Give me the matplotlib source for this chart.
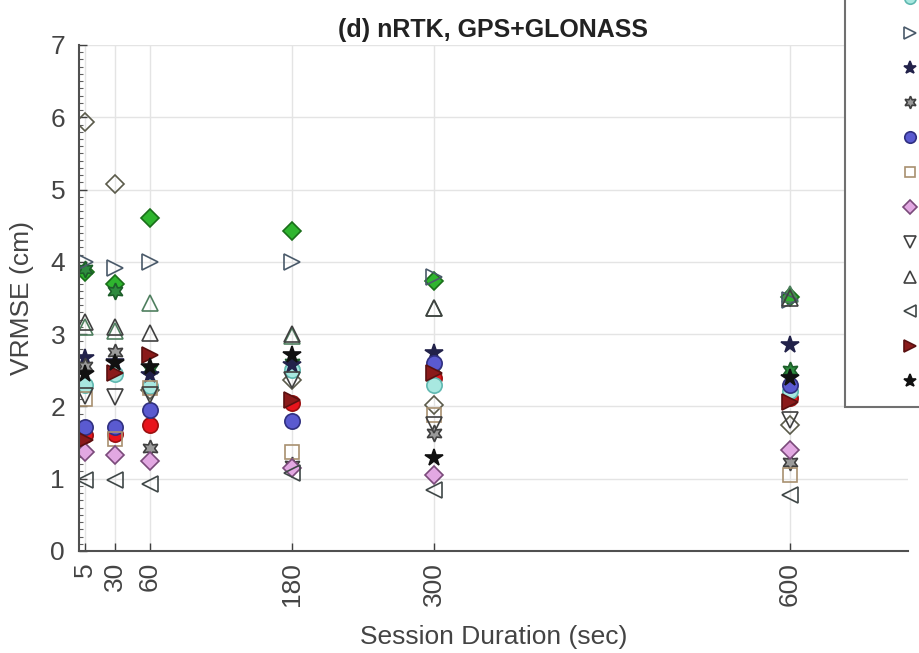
import numpy as np
import matplotlib
matplotlib.use('Agg')
import matplotlib.pyplot as plt
from matplotlib.ticker import MultipleLocator

plt.rcParams['font.family'] = ['Liberation Sans', 'DejaVu Sans']

# session durations (sec)
durations = [5, 30, 60, 180, 300, 600]
tick_labels = ['5', '30', '60', '180', '300', '600']

# VRMSE (cm) per receiver/solution
dia_open   = [5.93, 5.08, 2.23, 2.37, 2.02, 1.75]
dia_green  = [3.86, 3.70, 4.60, 4.43, 3.74, 3.52]
hex_green  = [3.90, 3.60, 2.52, 2.60, 2.50, 2.50]
circ_red   = [1.60, 1.62, 1.74, 2.05, 2.40, 2.12]
utri_green = [3.10, 3.05, 3.43, 2.98, 3.36, 3.55]
circ_cyan  = [2.30, 2.45, 2.28, 2.50, 2.30, 2.22]
rtri       = [4.00, 3.92, 4.00, 4.00, 3.79, 3.47]
star_navy  = [2.67, 2.62, 2.43, 2.57, 2.74, 2.85]
hexagram   = [2.56, 2.75, 1.42, 1.19, 1.63, 1.23]
circ_blue  = [1.72, 1.72, 1.95, 1.80, 2.60, 2.30]
square     = [2.10, 1.55, 2.25, 1.37, 1.88, 1.05]
dia_pink   = [1.37, 1.33, 1.25, 1.15, 1.05, 1.40]
dtri       = [2.15, 2.13, 2.16, 2.37, 1.74, 1.81]
utri       = [3.17, 3.10, 3.02, 3.00, 3.36, 3.50]
ltri       = [0.98, 0.98, 0.92, 1.08, 0.84, 0.78]
rtri_red   = [1.53, 2.46, 2.71, 2.09, 2.46, 2.06]
star_black = [2.45, 2.60, 2.55, 2.71, 1.29, 2.40]

hexmark = (6, 1, 0)
# (values, marker, facecolor, edgecolor, size)
styles = [
    (dia_open,   'D', 'none',    '#5a5a4a', 9.5),
    (dia_green,  'D', '#2fb52f', '#1a6e1a', 9.5),
    (hex_green,  hexmark, '#2e8b3e', '#1d5e2a', 12),
    (circ_red,   'o', '#e8141c', '#9b1010', 11),
    (utri_green, '^', 'none',    '#4f7f5f', 11),
    (circ_cyan,  'o', '#a8e8e0', '#5fb8b0', 11),
    (rtri,       '>', 'none',    '#4a5a6a', 11),
    (star_navy,  '*', '#22224a', '#22224a', 13),
    (hexagram,   hexmark, '#9a9a9a', '#404040', 12),
    (circ_blue,  'o', '#5a5ad0', '#303080', 11),
    (square,     's', 'none',    '#a89070', 9.5),
    (dia_pink,   'D', '#e2a8e2', '#7a4a7a', 9.5),
    (dtri,       'v', 'none',    '#404040', 11),
    (utri,       '^', 'none',    '#404040', 11),
    (ltri,       '<', 'none',    '#404848', 11),
    (rtri_red,   '>', '#8a1a1a', '#5a1010', 11),
    (star_black, '*', '#111111', '#111111', 13),
]

fig = plt.figure(figsize=(9.19, 6.53), dpi=100)
ax = fig.add_axes([79/919, 1 - 551/653, (908 - 79)/919, (551 - 45)/653])

handles = []
for vals, mk, fc, ec, ms in styles:
    h, = ax.plot(durations, vals, linestyle='none', marker=mk, markersize=ms,
                 markerfacecolor=fc, markeredgecolor=ec, markeredgewidth=1.2)
    handles.append(h)

ax.set_xlim(0, 700)
ax.set_ylim(0, 7)
ax.set_xticks(durations)
ax.set_xticklabels(tick_labels, rotation=90)
ax.yaxis.set_minor_locator(MultipleLocator(0.1))
ax.tick_params(axis='both', which='major', direction='in', length=6, width=1,
               colors='#404040', labelsize=19, labelcolor='#444444')
ax.tick_params(axis='x', pad=8)
ax.tick_params(axis='y', pad=10)
ax.tick_params(axis='y', which='minor', direction='in', length=3, width=0.8, colors='#606060')
ax.grid(True, which='major', color='#e4e4e4', linewidth=1)
ax.set_axisbelow(True)
for s in ['top', 'right']:
    ax.spines[s].set_visible(False)
for s in ['left', 'bottom']:
    ax.spines[s].set_color('#505050')
    ax.spines[s].set_linewidth(1.5)

ax.set_xlabel('Session Duration (sec)', fontsize=19, color='#444444', labelpad=14)
ax.set_ylabel('VRMSE (cm)', fontsize=19, color='#444444', labelpad=12)
ax.set_title('(d) nRTK, GPS+GLONASS', fontsize=18, fontweight='bold', color='#222222', pad=6)

# legend: only the marker column falls inside the picture, as in the original
leg = fig.legend(handles, [''] * len(handles), loc='lower left',
                 bbox_to_anchor=(845/919, 1 - 407/653),
                 bbox_transform=fig.transFigure, borderaxespad=0, numpoints=1,
                 fontsize=10, handlelength=6.8, borderpad=1.3, labelspacing=1.5,
                 markerscale=0.75, fancybox=False, framealpha=1)
leg.get_frame().set_edgecolor('#707070')
leg.get_frame().set_linewidth(1.5)

fig.savefig('out.png', dpi=100)
